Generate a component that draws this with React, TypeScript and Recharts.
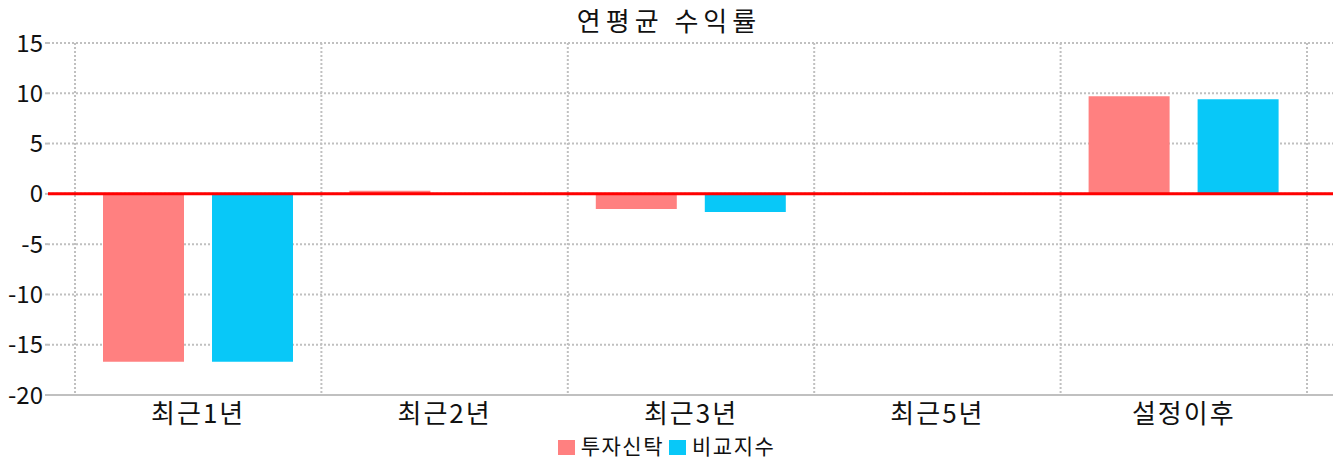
import React from "react";
import {
  BarChart,
  Bar,
  XAxis,
  YAxis,
  CartesianGrid,
  ReferenceLine,
  Legend,
} from "recharts";

const periods = ["최근1년", "최근2년", "최근3년", "최근5년", "설정이후"];
const fundReturns: (number | null)[] = [-16.7, 0.3, -1.5, null, 9.7];
const indexReturns: (number | null)[] = [-16.7, 0, -1.8, null, 9.4];
const yTicks = [15, 10, 5, 0, -5, -10, -15, -20];
const boundaryTicks = [0, 1, 2, 3, 4, 5];

const seriesNames = ["투자신탁", "비교지수"];
const seriesColors = ["#ff8080", "#08c8f8"];

const data = periods.map((p, i) => ({
  period: p,
  fund: fundReturns[i],
  index: indexReturns[i],
}));

const FONT = '"Noto Sans CJK KR", "Noto Sans", sans-serif';
const GRID = "#c0c0c0";
const PAD_L = 27;
const PAD_R = 26;

function LegendBox() {
  return (
    <div
      style={{
        display: "flex",
        justifyContent: "center",
        alignItems: "center",
        height: 28,
        fontFamily: FONT,
        fontSize: 21,
        letterSpacing: 1.5,
        color: "#111",
        lineHeight: "28px",
      }}
    >
      {seriesNames.map((n, i) => (
        <div key={n} style={{ display: "flex", alignItems: "center", marginRight: i === 0 ? 5 : 0 }}>
          <span
            style={{
              display: "inline-block",
              width: 17,
              height: 15,
              background: seriesColors[i],
              marginRight: 6,
              marginTop: 4,
            }}
          />
          <span>{n}</span>
        </div>
      ))}
    </div>
  );
}

export default function App() {
  return (
    <div style={{ position: "absolute", left: 0, top: 0, width: 1338, height: 459, fontFamily: FONT }}>
      {/* Chart title */}
      <div
        style={{
          position: "absolute",
          top: 4,
          left: 0,
          width: 1338,
          textAlign: "center",
          fontSize: 26,
          letterSpacing: 5,
          color: "#111",
          lineHeight: "32px",
        }}
      >
        연평균 수익률
      </div>
      <BarChart
        width={1338}
        height={459}
        data={data}
        margin={{ top: 43, right: 5, left: 0, bottom: 0 }}
        barCategoryGap={28}
        barGap={28}
      >
        {/* boundary axis: small tick marks between categories */}
        <XAxis
          xAxisId="b"
          type="number"
          domain={[0, 5]}
          ticks={boundaryTicks}
          padding={{ left: PAD_L, right: PAD_R }}
          height={0}
          tick={() => <g />}
          axisLine={false}
          tickLine={{ stroke: GRID, strokeWidth: 2 }}
          tickSize={4}
        />
        <CartesianGrid
          stroke={GRID}
          strokeWidth={2}
          strokeDasharray="2 2"
          verticalCoordinatesGenerator={({ offset }: any) => {
            const band = (offset.width - PAD_L - PAD_R) / periods.length;
            return boundaryTicks.map((t) => offset.left + PAD_L + t * band);
          }}
        />
        <XAxis
          dataKey="period"
          padding={{ left: PAD_L, right: PAD_R }}
          height={36}
          tickLine={false}
          axisLine={{ stroke: GRID, strokeWidth: 2 }}
          tick={{ fill: "#111", fontSize: 26, letterSpacing: 2, fontFamily: FONT }}
          tickMargin={4}
          interval={0}
        />
        <YAxis
          domain={[-20, 15]}
          ticks={yTicks}
          width={48}
          axisLine={false}
          tickLine={{ stroke: GRID, strokeWidth: 2 }}
          tickSize={3}
          tickMargin={2}
          tick={{ fill: "#111", fontSize: 24, fontFamily: FONT }}
          interval={0}
        />
        <Bar dataKey="fund" name={seriesNames[0]} fill={seriesColors[0]} isAnimationActive={false} />
        <Bar dataKey="index" name={seriesNames[1]} fill={seriesColors[1]} isAnimationActive={false} />
        <ReferenceLine y={0} stroke="#ff0000" strokeWidth={3} />
        <Legend verticalAlign="bottom" height={28} content={() => <LegendBox />} />
      </BarChart>
    </div>
  );
}
